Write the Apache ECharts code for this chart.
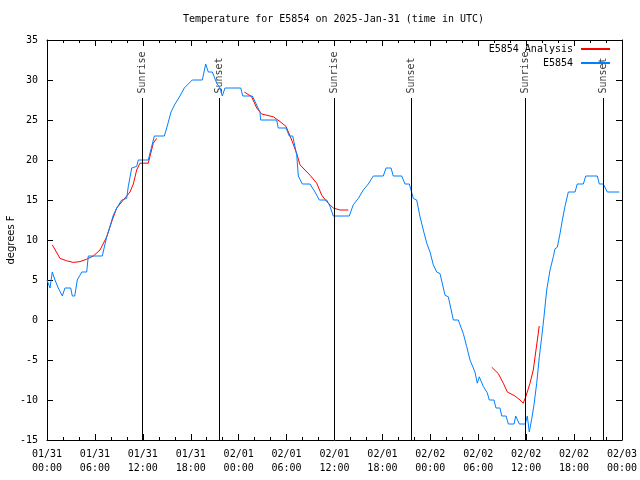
<!DOCTYPE html>
<html>
<head>
<meta charset="utf-8">
<script src="https://cdn.jsdelivr.net/npm/echarts@6/dist/echarts.min.js"></script>
<style>html,body{margin:0;padding:0;background:#fff}#c{width:640px;height:480px}</style>
</head>
<body>
<div id="c"></div>
<script>
// hours since 2025-01-31 00:00 UTC, temperature in degrees F
const xTickLabels = ["01/31\n00:00","01/31\n06:00","01/31\n12:00","01/31\n18:00","02/01\n00:00","02/01\n06:00","02/01\n12:00","02/01\n18:00","02/02\n00:00","02/02\n06:00","02/02\n12:00","02/02\n18:00","02/03\n00:00"];
const yTicks = [-15,-10,-5,0,5,10,15,20,25,30,35];

const e5854 = [
[0,5],[0.38,4],[0.66,6],[1.0,5],[1.41,4],[1.92,3],[2.25,4],[2.97,4],[3.17,3],[3.47,3],[3.79,5],[4.35,6],[4.97,6],[5.17,8],[6.92,8],
[7.48,10.4],[7.89,11.7],[8.3,13.1],[8.73,14],[9.35,15],[9.98,15.2],[10.18,16.7],[10.61,19],[11.23,19.2],[11.43,20],[12.68,20],
[13.44,23],[14.69,23],[14.99,24],[15.53,26],[16.03,27],[16.65,28],[17.19,29],[18.19,30],[19.45,30],[19.87,32],[20.2,31],[20.7,31],
[21.25,29.6],[21.66,29],[21.95,28],[22.29,29],[24.26,29],[24.51,28],[25.71,28],[26.05,27.3],[26.67,26],[26.75,25],[28.76,25],
[28.96,24],[29.93,24],[30.34,23],[30.77,23],[31.27,20.6],[31.47,18],[31.97,17],[32.93,17],[33.56,16],[34.1,15],[35.02,15],
[35.44,14.2],[35.85,13],[37.85,13],[38.35,14.4],[38.98,15.2],[39.61,16.25],[40.23,17],[40.86,18],[42.11,18],[42.45,19],[43.08,19],
[43.36,18],[44.42,18],[44.83,17],[45.37,17],[45.87,15.2],[46.29,15],[46.71,12.9],[47.12,11.25],[47.55,9.6],[47.96,8.5],[48.37,6.9],
[48.8,6],[49.21,5.8],[49.84,3.1],[50.25,2.9],[50.88,0],[51.5,0],[52.13,-1.7],[52.55,-3.3],[52.97,-5],[53.38,-6],[53.59,-6.5],
[53.88,-7.9],[54.13,-7.1],[54.63,-8.3],[55.13,-9.1],[55.38,-10],[55.97,-10],[56.22,-11],[56.72,-11],[56.94,-12],[57.48,-12],
[57.77,-13],[58.48,-13],[58.69,-12],[59.14,-13],[59.89,-13],[60.14,-12],[60.39,-14],[60.69,-12.4],[60.98,-10.6],[61.32,-7.9],
[61.65,-4.6],[61.95,-2.1],[62.23,0.4],[62.57,3.75],[62.99,6.25],[63.4,7.9],[63.61,8.9],[63.9,9.1],[64.24,10.8],[64.53,12.5],
[64.86,14.2],[65.28,16],[66.12,16],[66.4,17],[67.16,17],[67.46,18],[68.91,18],[69.16,17],[69.66,17],[70.16,16],[71.66,16]
];

const analysisSeg1 = [[0.66,9.4],[1.63,7.7],[2.47,7.4],[3.3,7.2],[4.13,7.3],[4.97,7.6],[5.8,8],[6.64,8.75],[7.48,10.4],[8.1,12.3],[8.73,14],[9.55,15],[10.39,16],[10.81,17],[11.23,18.75],[11.64,19.6],[12.68,19.6],[13.31,22.1],[13.73,22.7]];
const analysisSeg2 = [[24.71,28.5],[25.63,27.9],[26.26,26.5],[26.88,25.75],[28.34,25.4],[29.18,24.8],[29.93,24.2],[30.64,22.5],[31.27,20.8],[31.68,19.4],[32.93,18.1],[33.77,17.1],[34.4,15.6],[35.02,14.8],[35.85,14],[36.69,13.75],[37.73,13.75]];
const analysisSeg3 = [[55.69,-5.9],[56.51,-6.7],[57.14,-7.9],[57.64,-9],[58.6,-9.5],[59.23,-10],[59.64,-10.4],[59.98,-9.5],[60.48,-7.9],[60.89,-6.25],[61.23,-3.75],[61.64,-0.75]];

const sunriseHours = [11.93, 35.95, 59.93];
const sunsetHours = [21.58, 45.6, 69.63];

const LINE_TOP = 27.75;
const MONO = '"DejaVu Sans Mono", monospace';

const analysis = analysisSeg1.concat([[18, null]], analysisSeg2, [[46, null]], analysisSeg3);

function sunSeries(name, hours) {
  return {
    name: name, type: 'scatter', xAxisIndex: 0, yAxisIndex: 0,
    symbolSize: 1, itemStyle: {color: 'transparent'}, silent: true, z: 1,
    data: hours.map(h => [h, LINE_TOP]),
    label: {show: true, position: 'top', distance: 4, rotate: 90, align: 'left', verticalAlign: 'middle',
            formatter: name, color: '#000', fontFamily: MONO, fontSize: 10},
    markLine: {silent: true, symbol: ['none','none'], label: {show: false},
      lineStyle: {color: '#000', width: 1, type: 'solid'},
      data: hours.map(h => [{coord: [h, -15]}, {coord: [h, LINE_TOP]}])}
  };
}

const axisCommonX = {type: 'value', min: 0, max: 72, interval: 6,
  axisLine: {show: true, onZero: false, lineStyle: {color: '#000', width: 1}},
  axisTick: {inside: true, length: 6, lineStyle: {color: '#000'}},
  minorTick: {show: true, splitNumber: 3, length: 3, lineStyle: {color: '#000'}},
  splitLine: {show: false}, minorSplitLine: {show: false}};
const axisCommonY = {type: 'value', min: -15, max: 35, interval: 5,
  axisLine: {show: true, onZero: false, lineStyle: {color: '#000', width: 1}},
  axisTick: {show: true, inside: true, length: 6, lineStyle: {color: '#000'}},
  splitLine: {show: false}};

const chart = echarts.init(document.getElementById('c'), null, {renderer: 'canvas'});
chart.setOption({
  animation: false,
  backgroundColor: '#fff',
  title: {text: 'Temperature for E5854 on 2025-Jan-31 (time in UTC)', left: 183, top: 14, padding: 0,
    textStyle: {fontFamily: MONO, fontSize: 10, fontWeight: 'normal', color: '#000'}},
  legend: {orient: 'vertical', right: 30, top: 43, align: 'right', padding: 0, itemGap: 2,
    itemWidth: 29, itemHeight: 2, icon: 'rect',
    data: ['E5854 Analysis', 'E5854'],
    textStyle: {fontFamily: MONO, fontSize: 10, color: '#000', padding: [0, 3, 0, 0], lineHeight: 12}},
  grid: {left: 47, right: 18, top: 40, bottom: 40, containLabel: false, outerBoundsMode: 'none'},
  xAxis: [
    Object.assign({}, axisCommonX, {position: 'bottom',
      axisLabel: {margin: 7, fontFamily: MONO, fontSize: 10, color: '#000', lineHeight: 14,
        formatter: v => xTickLabels[Math.round(v / 6)]}}),
    Object.assign({}, axisCommonX, {position: 'top', axisLabel: {show: false}})
  ],
  yAxis: [
    Object.assign({}, axisCommonY, {position: 'left', name: 'degrees F', nameLocation: 'middle', nameRotate: 90, nameGap: 31,
      nameMoveOverlap: false,
      nameTextStyle: {fontFamily: '"DejaVu Sans", sans-serif', fontSize: 10, color: '#000'},
      axisLabel: {margin: 9, fontFamily: MONO, fontSize: 10, color: '#000',
        formatter: v => yTicks.includes(v) ? String(v) : ''}}),
    Object.assign({}, axisCommonY, {position: 'right', axisLabel: {show: false}})
  ],
  series: [
    sunSeries('Sunrise', sunriseHours),
    sunSeries('Sunset', sunsetHours),
    {name: 'E5854 Analysis', type: 'line', xAxisIndex: 0, yAxisIndex: 0, data: analysis,
      symbol: 'none', connectNulls: false, lineStyle: {color: '#ff0000', width: 1}, itemStyle: {color: '#ff0000'}, z: 3},
    {name: 'E5854', type: 'line', xAxisIndex: 0, yAxisIndex: 0, data: e5854,
      symbol: 'none', lineStyle: {color: '#0080ff', width: 1}, itemStyle: {color: '#0080ff'}, z: 4}
  ]
});
</script>
</body>
</html>
